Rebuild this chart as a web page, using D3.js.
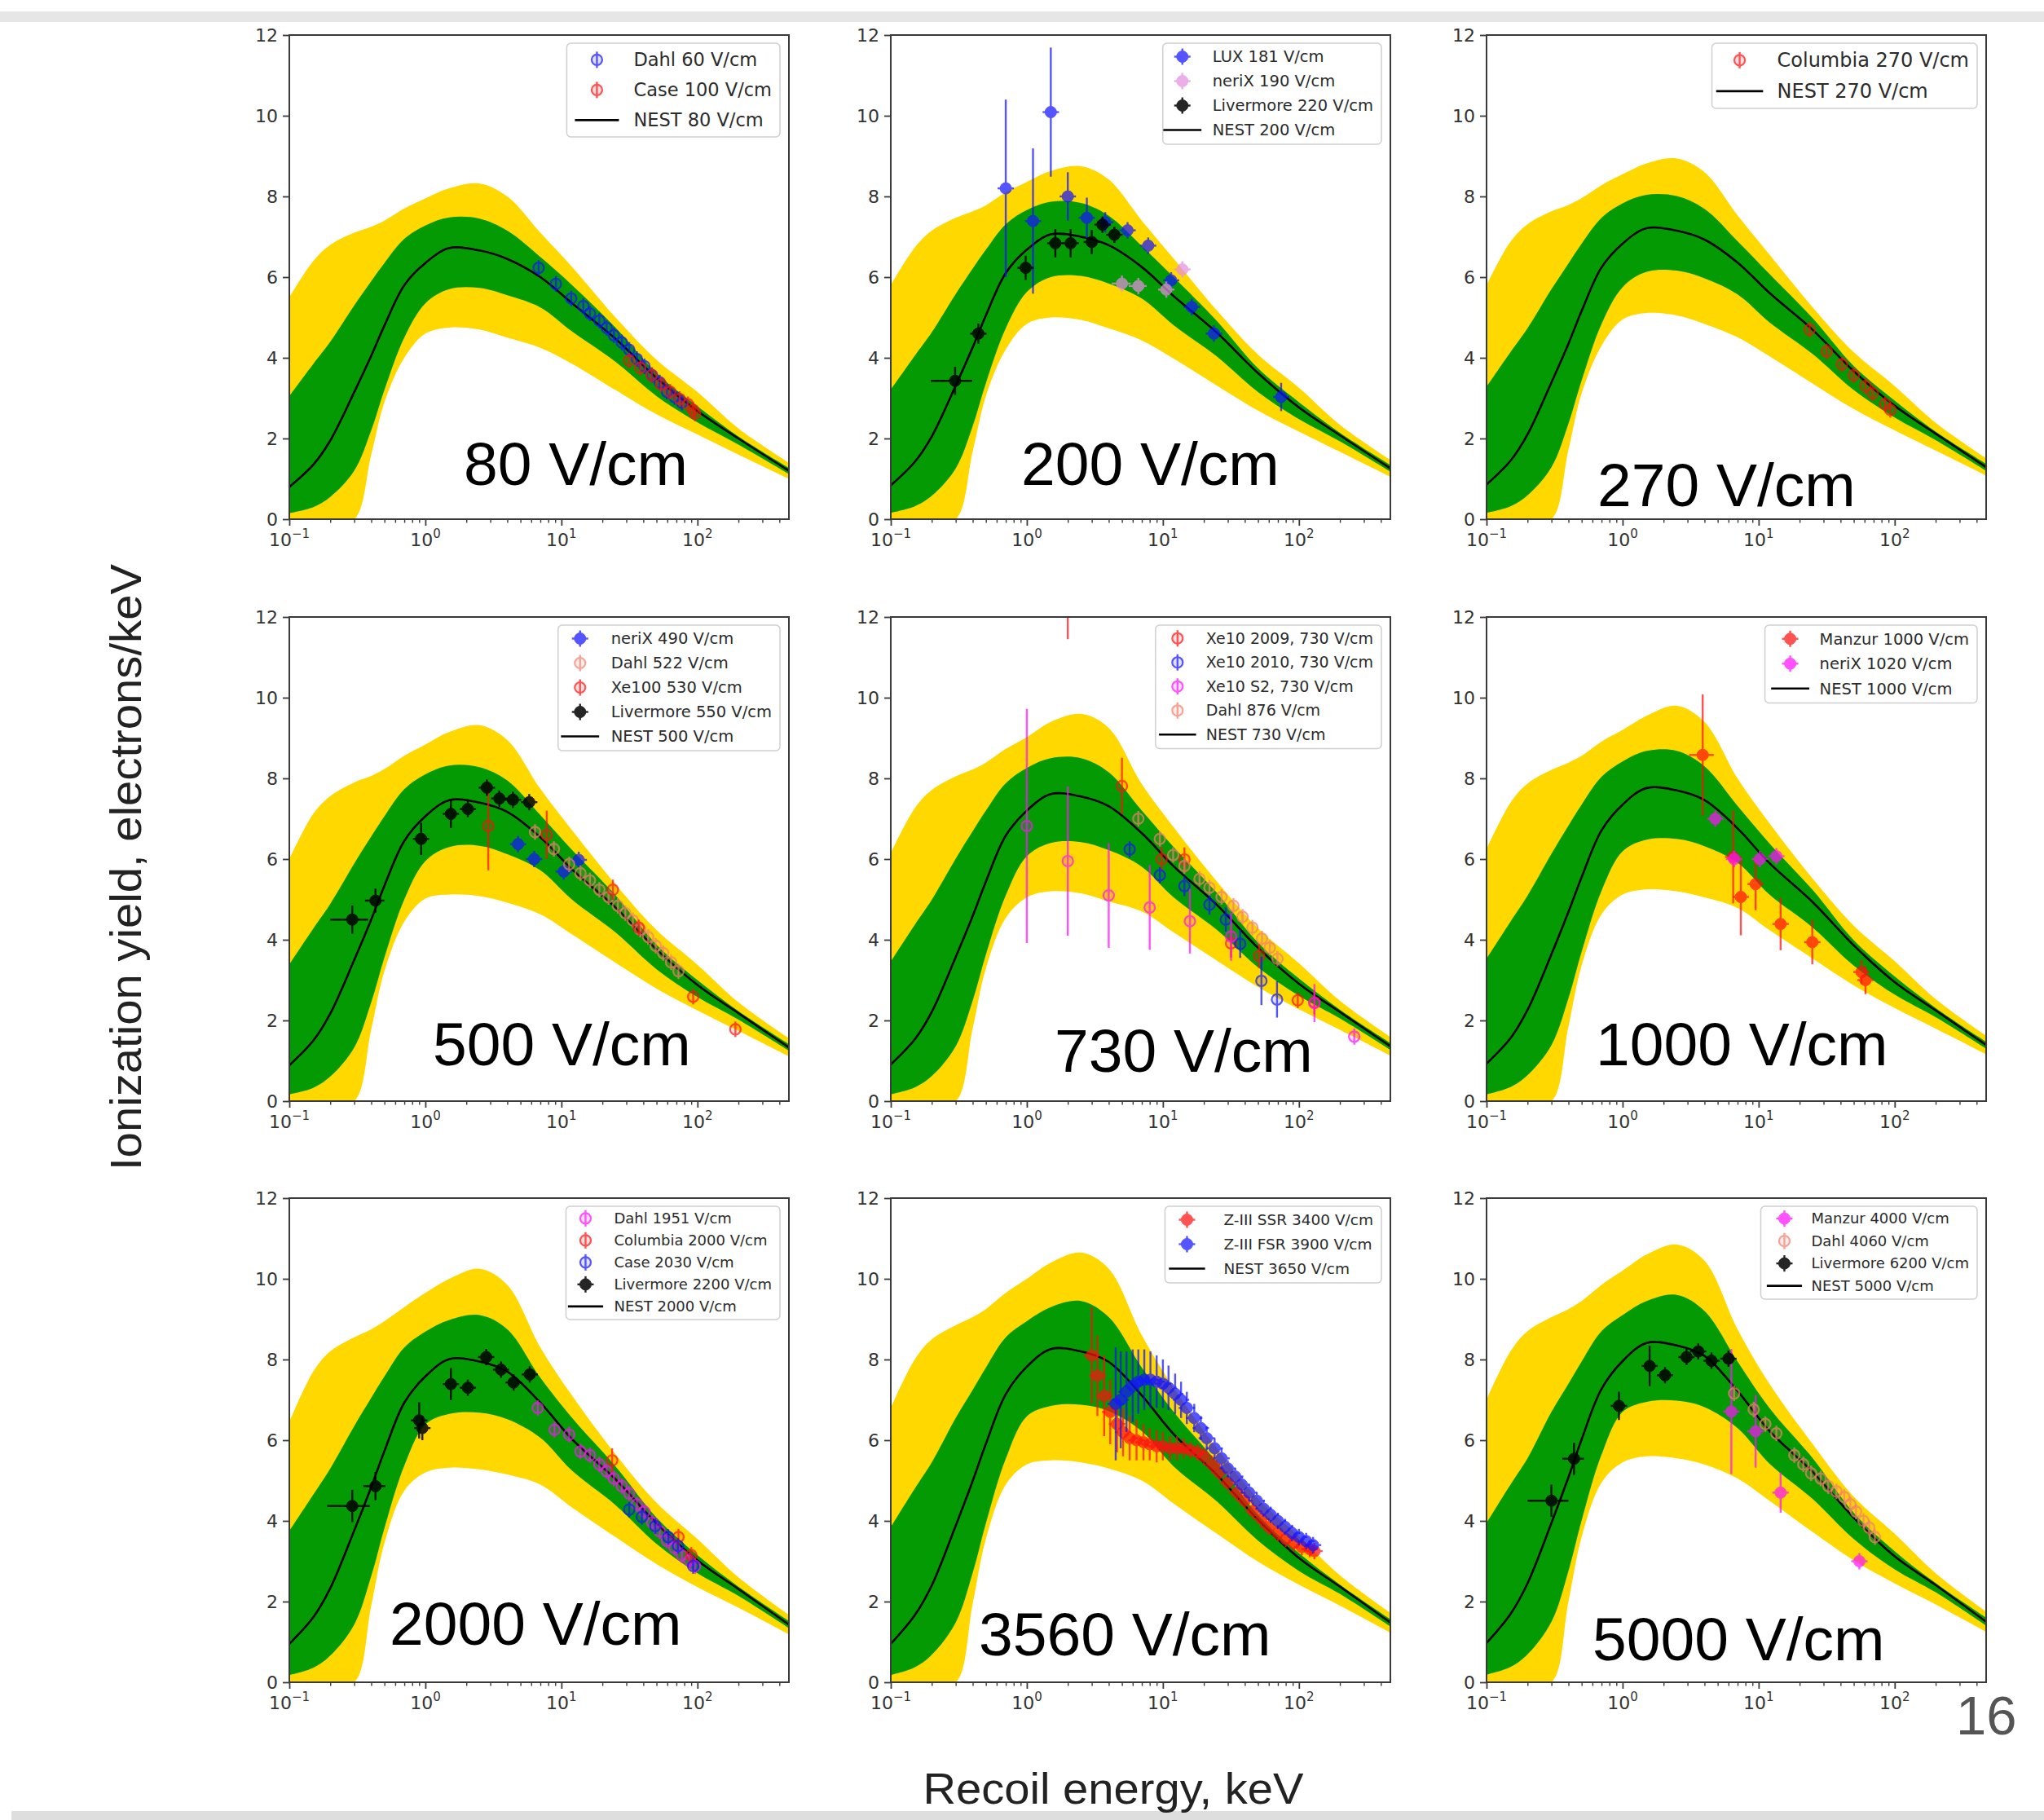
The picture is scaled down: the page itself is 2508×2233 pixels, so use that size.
<!DOCTYPE html>
<html>
<head>
<meta charset="utf-8">
<script src="https://cdn.jsdelivr.net/npm/d3@7"></script>
<style>
  body { margin: 0; background: #fff; }
</style>
</head>
<body>
<div id="chart"></div>
<script>
var energyGrid = [0.1, 0.15, 0.2, 0.3, 0.4, 0.5, 0.7, 1, 1.5, 2.5, 4, 7, 12, 25, 50, 100, 200, 470];

// ---- NEST mean, 1 sigma (green) and 2 sigma (yellow) bands, one set per field ----
var nest80      = [0.80,1.35,1.95,3.15,4.05,4.80,5.80,6.35,6.72,6.66,6.45,6.00,5.35,4.47,3.50,2.68,2.00,1.20];
var green80Hi   = [3.05,3.85,4.40,5.30,5.90,6.35,6.95,7.28,7.48,7.45,7.15,6.50,5.80,4.75,3.62,2.80,2.05,1.27];
var green80Lo   = [0.15,0.30,0.55,1.20,2.20,3.20,4.50,5.35,5.70,5.73,5.55,5.25,4.65,3.90,3.05,2.40,1.85,1.12];
var yellow80Hi  = [5.50,6.40,6.80,7.10,7.25,7.40,7.70,7.95,8.20,8.32,8.00,7.10,6.25,5.00,3.95,3.15,2.25,1.40];
var yellow80Lo  = [0,0,0,0,1.60,2.90,4.00,4.60,4.75,4.70,4.50,4.25,3.85,3.20,2.60,2.10,1.60,1.00];

var nest200     = [0.84,1.42,2.05,3.31,4.26,5.05,6.10,6.68,7.06,7.00,6.79,6.25,5.53,4.62,3.62,2.77,2.08,1.26];
var green200Hi  = [3.21,4.05,4.63,5.58,6.21,6.68,7.31,7.66,7.87,7.84,7.52,6.77,6.00,4.91,3.74,2.90,2.14,1.34];
var green200Lo  = [0.16,0.32,0.58,1.26,2.31,3.37,4.73,5.63,6.00,6.03,5.84,5.47,4.81,4.03,3.15,2.48,1.93,1.18];
var yellow200Hi = [5.80,6.73,7.15,7.47,7.63,7.78,8.10,8.36,8.63,8.75,8.42,7.40,6.46,5.17,4.08,3.26,2.34,1.47];
var yellow200Lo = [0,0,0,0,1.68,3.05,4.21,4.84,5.00,4.94,4.73,4.43,3.98,3.31,2.69,2.17,1.67,1.05];

var nest270     = [0.86,1.45,2.10,3.39,4.35,5.16,6.24,6.83,7.21,7.15,6.93,6.36,5.61,4.69,3.67,2.81,2.12,1.29];
var green270Hi  = [3.28,4.14,4.73,5.70,6.34,6.83,7.47,7.83,8.04,8.01,7.69,6.89,6.08,4.98,3.80,2.94,2.17,1.37];
var green270Lo  = [0.16,0.32,0.59,1.29,2.37,3.44,4.84,5.75,6.13,6.16,5.97,5.57,4.88,4.09,3.20,2.52,1.96,1.20];
var yellow270Hi = [5.80,6.88,7.31,7.63,7.79,7.96,8.28,8.55,8.82,8.94,8.60,7.53,6.56,5.25,4.14,3.30,2.39,1.51];
var yellow270Lo = [0,0,0,0,1.72,3.12,4.30,4.95,5.11,5.05,4.84,4.51,4.04,3.36,2.73,2.20,1.70,1.08];

var nest500     = [0.89,1.50,2.17,3.50,4.50,5.34,6.45,7.06,7.46,7.40,7.17,6.54,5.74,4.80,3.76,2.88,2.18,1.33];
var green500Hi  = [3.39,4.28,4.89,5.89,6.56,7.06,7.73,8.10,8.32,8.28,7.95,7.09,6.22,5.10,3.88,3.00,2.23,1.41];
var green500Lo  = [0.17,0.33,0.61,1.33,2.45,3.56,5.00,5.95,6.30,6.33,6.12,5.72,4.99,4.18,3.27,2.58,2.02,1.25];
var yellow500Hi = [6.00,7.12,7.56,7.90,8.06,8.23,8.56,8.84,9.15,9.32,8.95,7.74,6.71,5.37,4.24,3.38,2.45,1.56];
var yellow500Lo = [0,0,0,0,1.78,3.22,4.45,5.02,5.12,5.08,4.92,4.63,4.13,3.43,2.79,2.25,1.74,1.11];

var nest730     = [0.91,1.53,2.21,3.57,4.59,5.44,6.58,7.20,7.61,7.55,7.31,6.64,5.82,4.86,3.80,2.91,2.21,1.36];
var green730Hi  = [3.46,4.37,4.99,6.01,6.69,7.20,7.88,8.26,8.50,8.50,8.15,7.20,6.30,5.16,3.93,3.04,2.27,1.44];
var green730Lo  = [0.17,0.34,0.62,1.36,2.49,3.63,5.10,6.07,6.40,6.42,6.22,5.81,5.05,4.24,3.32,2.61,2.05,1.27];
var yellow730Hi = [6.15,7.26,7.71,8.05,8.22,8.39,8.73,9.02,9.40,9.60,9.25,7.86,6.79,5.44,4.29,3.42,2.49,1.59];
var yellow730Lo = [0,0,0,0,1.81,3.29,4.54,5.05,5.20,5.15,4.95,4.70,4.18,3.48,2.83,2.28,1.77,1.13];

var nest1000     = [0.93,1.56,2.26,3.64,4.69,5.55,6.71,7.35,7.76,7.70,7.46,6.76,5.90,4.93,3.86,2.95,2.25,1.39];
var green1000Hi  = [3.53,4.45,5.09,6.13,6.83,7.35,8.04,8.42,8.68,8.68,8.30,7.32,6.39,5.23,3.99,3.09,2.31,1.47];
var green1000Lo  = [0.17,0.35,0.64,1.39,2.55,3.70,5.21,6.19,6.48,6.50,6.32,5.91,5.12,4.30,3.36,2.64,2.08,1.30];
var yellow1000Hi = [6.25,7.40,7.87,8.21,8.39,8.56,8.91,9.20,9.55,9.80,9.40,8.00,6.89,5.51,4.35,3.47,2.53,1.62];
var yellow1000Lo = [0,0,0,0,1.85,3.36,4.63,5.12,5.25,5.20,5.05,4.79,4.24,3.53,2.87,2.31,1.80,1.16];

var nest2000     = [0.95,1.61,2.33,3.76,4.84,5.73,6.93,7.58,8.01,7.95,7.70,6.93,6.02,5.03,3.94,3.02,2.31,1.43];
var green2000Hi  = [3.75,4.65,5.30,6.35,7.05,7.58,8.30,8.69,8.98,9.10,8.75,7.55,6.55,5.35,4.08,3.15,2.37,1.52];
var green2000Lo  = [0.18,0.36,0.66,1.43,2.63,3.82,5.37,6.39,6.65,6.68,6.52,6.06,5.24,4.39,3.43,2.70,2.14,1.34];
var yellow2000Hi = [6.45,7.70,8.20,8.55,8.75,8.95,9.30,9.65,10.00,10.25,9.85,8.30,7.10,5.65,4.45,3.55,2.60,1.67];
var yellow2000Lo = [0,0,0,0,1.90,3.45,4.75,5.20,5.32,5.28,5.15,4.90,4.33,3.60,2.93,2.36,1.85,1.19];

var nest3650     = [0.95,1.66,2.40,3.88,4.99,5.91,7.14,7.82,8.26,8.20,7.94,7.11,6.15,5.14,4.03,3.08,2.37,1.48];
var green3650Hi  = [3.85,4.80,5.45,6.55,7.25,7.80,8.55,8.95,9.30,9.45,9.05,7.80,6.70,5.45,4.15,3.20,2.42,1.56];
var green3650Lo  = [0.18,0.37,0.68,1.48,2.71,3.94,5.54,6.59,6.85,6.88,6.72,6.22,5.35,4.48,3.51,2.76,2.19,1.38];
var yellow3650Hi = [6.80,8.00,8.50,8.85,9.05,9.25,9.65,10.00,10.40,10.65,10.25,8.60,7.30,5.80,4.55,3.62,2.65,1.72];
var yellow3650Lo = [0,0,0,0,1.95,3.55,4.90,5.40,5.50,5.45,5.30,5.00,4.43,3.68,2.99,2.42,1.90,1.23];

var nest5000     = [0.97,1.69,2.45,3.95,5.08,6.02,7.27,7.96,8.41,8.35,8.09,7.22,6.23,5.21,4.08,3.12,2.41,1.50];
var green5000Hi  = [3.95,4.90,5.55,6.70,7.40,7.95,8.70,9.10,9.45,9.60,9.20,7.95,6.80,5.55,4.20,3.25,2.46,1.60];
var green5000Lo  = [0.19,0.38,0.69,1.50,2.76,4.01,5.64,6.70,6.95,6.98,6.82,6.30,5.42,4.54,3.55,2.80,2.23,1.40];
var yellow5000Hi = [7.00,8.20,8.70,9.05,9.25,9.45,9.85,10.20,10.60,10.85,10.45,8.75,7.40,5.90,4.60,3.68,2.70,1.75];
var yellow5000Lo = [0,0,0,0,2.00,3.60,4.95,5.45,5.60,5.55,5.40,5.05,4.50,3.72,3.02,2.45,1.93,1.25];

// ---- measurements: energy (keV), yield, y error, x error ----
var dahl60E   = [6.8, 9.1, 11.8, 14.5, 16.2, 19, 21.5, 24.3, 27.8, 31.5, 35.9, 40.8, 46.4, 52.8, 59.6, 67.8, 76.8];
var dahl60Y   = [6.23, 5.83, 5.47, 5.28, 5.10, 4.92, 4.74, 4.56, 4.38, 4.20, 3.97, 3.79, 3.57, 3.39, 3.16, 3.03, 2.89];
var case100E  = [31.5, 38, 46, 54, 63, 74, 85, 93, 96];
var case100Y  = [3.93, 3.75, 3.57, 3.34, 3.16, 2.98, 2.85, 2.71, 2.62];

var lux181E   = [0.70, 1.11, 1.5, 2.0, 2.76, 3.77, 5.5, 7.8, 11.5, 16.3, 23.7, 74];
var lux181Y   = [8.20, 7.39, 10.09, 8.00, 7.47, 7.36, 7.16, 6.78, 5.92, 5.26, 4.60, 3.03];
var lux181Err = [2.2, 1.8, 1.6, 0.6, 0.5, 0.25, 0.2, 0.15, 0.15, 0.15, 0.15, 0.35];
var nerix190E = [5.0, 6.6, 10.6, 13.9];
var nerix190Y = [5.84, 5.78, 5.69, 6.19];
var nerix190Xerr = [0.8, 1.0, 1.3, 1.6];
var liv220E   = [0.297, 0.44, 0.98, 1.62, 2.1, 3.0, 3.6, 4.4];
var liv220Y   = [3.43, 4.60, 6.23, 6.84, 6.84, 6.87, 7.30, 7.05];
var liv220Err = [0.35, 0.25, 0.3, 0.35, 0.35, 0.3, 0.2, 0.2];
var liv220Xerr = [0.1, 0.05, 0.05, 0.08, 0.1, 0.12, 0.15, 0.2];

var columbia270E = [23.7, 31.7, 41, 50, 61, 69, 85, 93];
var columbia270Y = [4.70, 4.16, 3.84, 3.57, 3.30, 3.12, 2.85, 2.71];

var nerix490E = [4.8, 6.3, 10.4, 13.4];
var nerix490Y = [6.37, 6.00, 5.69, 5.98];
var nerix490Xerr = [0.6, 0.8, 1.2, 1.6];
var dahl522E  = [6.4, 8.8, 11.4, 13.8, 16.2, 19, 22.2, 26, 29.5, 33.5, 38, 43.4, 49.3, 56, 64, 72.5];
var dahl522Y  = [6.67, 6.25, 5.87, 5.65, 5.47, 5.24, 5.06, 4.84, 4.66, 4.48, 4.25, 4.07, 3.85, 3.67, 3.44, 3.22];
var xe100E    = [2.9, 7.8, 23.9, 37, 93, 190];
var xe100Y    = [6.82, 6.60, 5.24, 4.30, 2.59, 1.78];
var xe100Err  = [1.1, 0.6, 0.25, 0.2, 0.15, 0.15];
var liv550E   = [0.29, 0.43, 0.93, 1.54, 2.05, 2.83, 3.5, 4.4, 5.8];
var liv550Y   = [4.50, 4.97, 6.50, 7.12, 7.24, 7.77, 7.50, 7.47, 7.41];
var liv550Err = [0.35, 0.3, 0.4, 0.35, 0.15, 0.15, 0.12, 0.12, 0.12];
var liv550Xerr = [0.09, 0.07, 0.05, 0.06, 0.06, 0.06, 0.06, 0.06, 0.06];

var xe2009E   = [2.0, 5.0, 9.8, 14.4, 31.7, 51, 98, 130];
var xe2009Y   = [13.0, 7.81, 6.00, 5.99, 3.91, 3.60, 2.50, 2.45];
var xe2009Err = [1.55, 0.7, 0.3, 0.3, 0.35, 0.3, 0.15, 0.3];
var xe2010E   = [5.7, 9.5, 14.4, 22, 29, 37, 53, 69];
var xe2010Y   = [6.24, 5.60, 5.33, 4.87, 4.50, 3.90, 2.98, 2.52];
var xe2010Err = [0.2, 0.2, 0.25, 0.25, 0.3, 0.35, 0.6, 0.45];
var xe10s2E   = [1.0, 2.0, 4.0, 8.0, 15.8, 31.7, 130, 255];
var xe10s2Y   = [6.82, 5.95, 5.10, 4.80, 4.46, 4.08, 2.43, 1.60];
var xe10s2Err = [2.9, 1.85, 1.3, 1.05, 0.8, 0.6, 0.47, 0.2];
var dahl876E  = [6.6, 9.5, 11.9, 14.4, 18.6, 22, 27, 33, 38.5, 45.5, 53.5, 61, 69.5];
var dahl876Y  = [7.00, 6.50, 6.10, 5.83, 5.51, 5.29, 5.06, 4.84, 4.57, 4.30, 4.03, 3.80, 3.53];

var manzur1000E   = [3.88, 6.5, 7.4, 9.5, 14.5, 24.8, 57, 61];
var manzur1000Y   = [8.58, 6.05, 5.06, 5.38, 4.39, 3.94, 3.20, 3.00];
var manzur1000Err = [1.5, 1.15, 0.95, 0.65, 0.65, 0.55, 0.3, 0.35];
var manzur1000Xerr = [0.8, 0.6, 0.7, 0.8, 1.0, 1.5, 3, 3];
var nerix1020E = [4.8, 6.6, 10.2, 13.5];
var nerix1020Y = [7.00, 6.00, 6.00, 6.07];
var nerix1020Xerr = [0.5, 0.6, 0.9, 1.2];

var dahl1951E = [6.7, 8.9, 11.4, 13.8, 16.2, 19, 21.5, 24.3, 27.8, 31.5, 35.9, 40.8, 46.4, 52.8, 59.6, 67.8, 76.8, 87, 96];
var dahl1951Y = [6.80, 6.26, 6.14, 5.72, 5.63, 5.40, 5.23, 5.05, 4.86, 4.68, 4.41, 4.23, 3.96, 3.74, 3.51, 3.33, 3.15, 3.02, 2.88];
var columbia2000E   = [23.6, 72.5, 90];
var columbia2000Y   = [5.50, 3.60, 3.15];
var columbia2000Err = [0.3, 0.2, 0.2];
var case2030E = [31.5, 39, 49, 61, 72, 93];
var case2030Y = [4.28, 4.10, 3.87, 3.60, 3.38, 2.88];
var liv2200E   = [0.29, 0.43, 0.9, 0.95, 1.54, 2.05, 2.8, 3.6, 4.45, 5.85];
var liv2200Y   = [4.37, 4.86, 6.49, 6.30, 7.39, 7.30, 8.06, 7.75, 7.43, 7.63];
var liv2200Err = [0.4, 0.35, 0.45, 0.3, 0.4, 0.15, 0.15, 0.12, 0.12, 0.12];
var liv2200Xerr = [0.1, 0.08, 0.05, 0.05, 0.06, 0.06, 0.06, 0.06, 0.06, 0.06];

var zSsrE   = [3.0, 3.3, 3.7, 4.1, 4.6, 5.1, 5.7, 6.4, 7.2, 8.0, 9.0, 10, 11.3, 12.7, 14.2, 16, 18, 20, 23, 26, 30, 35, 40, 46, 53, 60, 70, 80, 92, 105, 120, 130];
var zSsrY   = [8.1, 7.6, 7.1, 6.7, 6.4, 6.2, 6.05, 6.0, 5.95, 5.9, 5.85, 5.85, 5.8, 5.8, 5.8, 5.75, 5.7, 5.6, 5.4, 5.2, 4.95, 4.7, 4.5, 4.25, 4.05, 3.85, 3.7, 3.55, 3.45, 3.35, 3.3, 3.25];
var zSsrErr = [1.2, 1.0, 1.0, 0.8, 0.7, 0.6, 0.55, 0.5, 0.45, 0.4, 0.4, 0.35, 0.3, 0.3, 0.25, 0.2, 0.2, 0.15, 0.15, 0.15, 0.15, 0.15, 0.12, 0.12, 0.12, 0.12, 0.1, 0.1, 0.1, 0.1, 0.1, 0.1];
var zFsrE   = [4.5, 4.9, 5.4, 6.0, 6.6, 7.3, 8.1, 9, 10, 11, 12.3, 13.6, 15, 17, 19, 21, 24, 27, 30, 34, 38, 43, 49, 55, 62, 70, 79, 89, 100, 113, 127];
var zFsrY   = [6.9, 7.0, 7.2, 7.35, 7.45, 7.5, 7.5, 7.45, 7.4, 7.3, 7.15, 7.0, 6.8, 6.55, 6.3, 6.05, 5.8, 5.55, 5.3, 5.1, 4.9, 4.7, 4.5, 4.3, 4.15, 4.0, 3.85, 3.7, 3.6, 3.5, 3.4];
var zFsrErr = [1.4, 1.2, 1.0, 0.9, 0.8, 0.75, 0.7, 0.65, 0.6, 0.55, 0.5, 0.45, 0.4, 0.35, 0.3, 0.3, 0.25, 0.25, 0.2, 0.2, 0.2, 0.2, 0.15, 0.15, 0.15, 0.15, 0.15, 0.12, 0.12, 0.12, 0.12];

var manzur4000E   = [6.3, 9.5, 14.5, 55];
var manzur4000Y   = [6.71, 6.22, 4.70, 3.00];
var manzur4000Err = [1.55, 0.9, 0.5, 0.2];
var manzur4000Xerr = [0.6, 0.8, 1.0, 3];
var dahl4060E = [6.6, 9.2, 11.2, 13.5, 18.3, 21.3, 24.3, 28.6, 32.5, 37.3, 42.6, 47.2, 52, 59, 65, 71.5];
var dahl4060Y = [7.16, 6.76, 6.40, 6.17, 5.63, 5.40, 5.18, 5.05, 4.86, 4.73, 4.59, 4.41, 4.23, 4.00, 3.83, 3.60];
var liv6200E   = [0.3, 0.44, 0.94, 1.58, 2.05, 2.95, 3.6, 4.5, 6.0];
var liv6200Y   = [4.50, 5.54, 6.85, 7.84, 7.61, 8.06, 8.20, 7.97, 8.02];
var liv6200Err = [0.4, 0.4, 0.35, 0.5, 0.15, 0.15, 0.12, 0.12, 0.12];
var liv6200Xerr = [0.1, 0.08, 0.05, 0.06, 0.06, 0.06, 0.06, 0.06, 0.06];

var fieldLabels = ["80 V/cm", "200 V/cm", "270 V/cm", "500 V/cm", "730 V/cm", "1000 V/cm", "2000 V/cm", "3560 V/cm", "5000 V/cm"];
var nestLabels  = ["NEST 80 V/cm", "NEST 200 V/cm", "NEST 270 V/cm", "NEST 500 V/cm", "NEST 730 V/cm", "NEST 1000 V/cm", "NEST 2000 V/cm", "NEST 3650 V/cm", "NEST 5000 V/cm"];
var yTicks = [0, 2, 4, 6, 8, 10, 12];
var xMajor = [0.1, 1, 10, 100];
var xMajorExp = ["\u22121", "0", "1", "2"];

// colours
var BLUE = "#1414ff", RED = "#ff1010", MAGENTA = "#ff10ff", PLUM = "#e58fe0", SALMON = "#f2806e", BLACK = "#000000";
var YELLOW = "#ffd800", GREEN = "#039a03";

// panels table, built from the arrays above
var panels = [
  { mean: nest80, gHi: green80Hi, gLo: green80Lo, yHi: yellow80Hi, yLo: yellow80Lo,
    series: [
      { name: "Dahl 60 V/cm", e: dahl60E, y: dahl60Y, color: BLUE, style: "open" },
      { name: "Case 100 V/cm", e: case100E, y: case100Y, color: RED, style: "open" } ] },
  { mean: nest200, gHi: green200Hi, gLo: green200Lo, yHi: yellow200Hi, yLo: yellow200Lo,
    series: [
      { name: "LUX 181 V/cm", e: lux181E, y: lux181Y, err: lux181Err, color: BLUE, style: "filled" },
      { name: "neriX 190 V/cm", e: nerix190E, y: nerix190Y, xerr: nerix190Xerr, color: PLUM, style: "filled" },
      { name: "Livermore 220 V/cm", e: liv220E, y: liv220Y, err: liv220Err, xerr: liv220Xerr, color: BLACK, style: "liv" } ] },
  { mean: nest270, gHi: green270Hi, gLo: green270Lo, yHi: yellow270Hi, yLo: yellow270Lo,
    series: [
      { name: "Columbia 270 V/cm", e: columbia270E, y: columbia270Y, color: RED, style: "open" } ] },
  { mean: nest500, gHi: green500Hi, gLo: green500Lo, yHi: yellow500Hi, yLo: yellow500Lo,
    series: [
      { name: "neriX 490 V/cm", e: nerix490E, y: nerix490Y, xerr: nerix490Xerr, color: BLUE, style: "filled" },
      { name: "Dahl 522 V/cm", e: dahl522E, y: dahl522Y, color: SALMON, style: "open" },
      { name: "Xe100 530 V/cm", e: xe100E, y: xe100Y, err: xe100Err, color: RED, style: "open" },
      { name: "Livermore 550 V/cm", e: liv550E, y: liv550Y, err: liv550Err, xerr: liv550Xerr, color: BLACK, style: "liv" } ] },
  { mean: nest730, gHi: green730Hi, gLo: green730Lo, yHi: yellow730Hi, yLo: yellow730Lo,
    series: [
      { name: "Xe10 2009, 730 V/cm", e: xe2009E, y: xe2009Y, err: xe2009Err, color: RED, style: "open" },
      { name: "Xe10 2010, 730 V/cm", e: xe2010E, y: xe2010Y, err: xe2010Err, color: BLUE, style: "open" },
      { name: "Xe10 S2, 730 V/cm", e: xe10s2E, y: xe10s2Y, err: xe10s2Err, color: MAGENTA, style: "open" },
      { name: "Dahl 876 V/cm", e: dahl876E, y: dahl876Y, color: SALMON, style: "open" } ] },
  { mean: nest1000, gHi: green1000Hi, gLo: green1000Lo, yHi: yellow1000Hi, yLo: yellow1000Lo,
    series: [
      { name: "Manzur 1000 V/cm", e: manzur1000E, y: manzur1000Y, err: manzur1000Err, xerr: manzur1000Xerr, color: RED, style: "filled" },
      { name: "neriX 1020 V/cm", e: nerix1020E, y: nerix1020Y, xerr: nerix1020Xerr, color: MAGENTA, style: "filled" } ] },
  { mean: nest2000, gHi: green2000Hi, gLo: green2000Lo, yHi: yellow2000Hi, yLo: yellow2000Lo,
    series: [
      { name: "Dahl 1951 V/cm", e: dahl1951E, y: dahl1951Y, color: MAGENTA, style: "open" },
      { name: "Columbia 2000 V/cm", e: columbia2000E, y: columbia2000Y, err: columbia2000Err, color: RED, style: "open" },
      { name: "Case 2030 V/cm", e: case2030E, y: case2030Y, color: BLUE, style: "open" },
      { name: "Livermore 2200 V/cm", e: liv2200E, y: liv2200Y, err: liv2200Err, xerr: liv2200Xerr, color: BLACK, style: "liv" } ] },
  { mean: nest3650, gHi: green3650Hi, gLo: green3650Lo, yHi: yellow3650Hi, yLo: yellow3650Lo,
    series: [
      { name: "Z-III SSR 3400 V/cm", e: zSsrE, y: zSsrY, err: zSsrErr, color: RED, style: "filled" },
      { name: "Z-III FSR 3900 V/cm", e: zFsrE, y: zFsrY, err: zFsrErr, color: BLUE, style: "filled" } ] },
  { mean: nest5000, gHi: green5000Hi, gLo: green5000Lo, yHi: yellow5000Hi, yLo: yellow5000Lo,
    series: [
      { name: "Manzur 4000 V/cm", e: manzur4000E, y: manzur4000Y, err: manzur4000Err, xerr: manzur4000Xerr, color: MAGENTA, style: "filled" },
      { name: "Dahl 4060 V/cm", e: dahl4060E, y: dahl4060Y, color: SALMON, style: "open" },
      { name: "Livermore 6200 V/cm", e: liv6200E, y: liv6200Y, err: liv6200Err, xerr: liv6200Xerr, color: BLACK, style: "liv" } ] }
];

// layout (pixels)
var colX = [355, 1093, 1824], rowY = [43, 757, 1470];
var pw = 613, ph = 594;
var labelPos = [[214, 552], [160, 552], [136, 578], [176, 550], [201, 558], [134, 550], [123, 548], [108, 561], [130, 567]];
var legendCfg = [
  { fs: 22.5, rowH: 37, textOff: 82, handle: 37 },
  { fs: 19.5, rowH: 30, textOff: 61, handle: 24 },
  { fs: 24, rowH: 38, textOff: 80, handle: 34 },
  { fs: 19.5, rowH: 30, textOff: 65, handle: 27 },
  { fs: 19, rowH: 29.5, textOff: 62, handle: 27 },
  { fs: 19.5, rowH: 30.5, textOff: 67, handle: 31 },
  { fs: 18, rowH: 27, textOff: 59, handle: 24 },
  { fs: 18.5, rowH: 30, textOff: 72, handle: 27 },
  { fs: 18, rowH: 27.5, textOff: 62, handle: 29 }
];

var W = 2508, H = 2233;
var svg = d3.select("#chart").append("svg")
    .attr("width", W)
    .attr("height", H)
    .style("font-family", "'DejaVu Sans', sans-serif");

svg.append("rect").attr("width", W).attr("height", H).attr("fill", "#fff");
// slide bars top and bottom
svg.append("rect").attr("x", 0).attr("y", 14).attr("width", W).attr("height", 13).attr("fill", "#e6e6e6");
svg.append("rect").attr("x", 14).attr("y", 2222).attr("width", W - 14).attr("height", 11).attr("fill", "#dedede");

var x = d3.scaleLog().domain([0.1, 470]).range([0, pw]);
var y = d3.scaleLinear().domain([0, 12]).range([ph, 0]);
var smooth = d3.curveCatmullRom.alpha(0.5);

var minorTicks = [];
[0.1, 1, 10, 100].forEach(function(d) {
  for (var k = 2; k <= 9; k++) { if (d * k <= 470) minorTicks.push(d * k); }
});

// one marker with its error bars
function drawMarker(g, cx, cy, ylo, yhi, xlo, xhi, style, color) {
  var r = style === "open" ? 6.5 : 7;
  var sw = 2.4;
  var grp = g.append("g").attr("opacity", style === "liv" ? 0.85 : 0.72);
  var top = Math.min(yhi, cy - r - 3), bot = Math.max(ylo, cy + r + 3);
  grp.append("line").attr("x1", cx).attr("x2", cx).attr("y1", top).attr("y2", bot)
     .attr("stroke", color).attr("stroke-width", sw);
  if (style !== "open") {
    var l = Math.min(xlo, cx - r - 3), rr = Math.max(xhi, cx + r + 3);
    grp.append("line").attr("x1", l).attr("x2", rr).attr("y1", cy).attr("y2", cy)
       .attr("stroke", color).attr("stroke-width", sw);
  }
  if (style === "open") {
    grp.append("circle").attr("cx", cx).attr("cy", cy).attr("r", r)
       .attr("fill", color).attr("fill-opacity", 0.18)
       .attr("stroke", color).attr("stroke-width", 2.2);
  } else {
    grp.append("circle").attr("cx", cx).attr("cy", cy).attr("r", r)
       .attr("fill", color).attr("stroke", color).attr("stroke-width", 1);
  }
}

panels.forEach(function(p, i) {
  var col = i % 3, row = Math.floor(i / 3);
  var g = svg.append("g").attr("transform", "translate(" + colX[col] + "," + rowY[row] + ")");

  g.append("clipPath").attr("id", "clip" + i)
    .append("rect").attr("width", pw).attr("height", ph);
  var plot = g.append("g").attr("clip-path", "url(#clip" + i + ")");

  var rows = energyGrid.map(function(e, k) {
    return { e: e, m: p.mean[k], gh: p.gHi[k], gl: p.gLo[k], yh: p.yHi[k], yl: p.yLo[k] };
  });
  function band(lo, hi) {
    return d3.area()
      .x(function(d) { return x(d.e); })
      .y0(function(d) { return y(d[lo]); })
      .y1(function(d) { return y(d[hi]); })
      .curve(smooth);
  }
  plot.append("path").datum(rows).attr("d", band("yl", "yh")).attr("fill", YELLOW);
  plot.append("path").datum(rows).attr("d", band("gl", "gh")).attr("fill", GREEN);
  plot.append("path").datum(rows)
    .attr("d", d3.line().x(function(d) { return x(d.e); }).y(function(d) { return y(d.m); }).curve(smooth))
    .attr("fill", "none").attr("stroke", "#000").attr("stroke-width", 2.6);

  // measurements
  p.series.forEach(function(s) {
    s.e.forEach(function(e, k) {
      var v = s.y[k];
      var err = s.err ? s.err[k] : 0.12;
      var xe = s.xerr ? s.xerr[k] : 0;
      drawMarker(plot, x(e), y(v), y(v - err), y(v + err),
                 xe ? x(Math.max(e - xe, 0.05)) : x(e), xe ? x(e + xe) : x(e), s.style, s.color);
    });
  });

  // frame
  g.append("rect").attr("width", pw).attr("height", ph)
    .attr("fill", "none").attr("stroke", "#3a3a3a").attr("stroke-width", 2);

  // y axis
  var ya = g.append("g").call(d3.axisLeft(y).tickValues(yTicks).tickSize(8).tickPadding(6));
  ya.select(".domain").remove();
  ya.selectAll("line").attr("stroke", "#3a3a3a").attr("stroke-width", 1.8);
  ya.selectAll("text").attr("font-size", 22).attr("fill", "#333").attr("font-family", "'DejaVu Sans', sans-serif");

  // x axis: majors, minors, superscript labels
  var xa = g.append("g").attr("transform", "translate(0," + ph + ")")
    .call(d3.axisBottom(x).tickValues(xMajor).tickSize(8).tickFormat(""));
  xa.select(".domain").remove();
  xa.selectAll("line").attr("stroke", "#3a3a3a").attr("stroke-width", 1.8);
  var xm = g.append("g").attr("transform", "translate(0," + ph + ")")
    .call(d3.axisBottom(x).tickValues(minorTicks).tickSize(4.5).tickFormat(""));
  xm.select(".domain").remove();
  xm.selectAll("line").attr("stroke", "#3a3a3a").attr("stroke-width", 1.4);

  xMajor.forEach(function(v, k) {
    var t = g.append("text").attr("x", x(v)).attr("y", ph + 33)
      .attr("text-anchor", "middle").attr("font-size", 22).attr("fill", "#333");
    t.append("tspan").text("10");
    t.append("tspan").attr("dy", -10).attr("font-size", 15).text(xMajorExp[k]);
  });

  // legend
  var lc = legendCfg[i];
  var entries = p.series.map(function(s) { return { name: s.name, s: s }; });
  entries.push({ name: nestLabels[i], s: null });
  var lg = g.append("g");
  var box = lg.append("rect");
  var texts = [];
  var maxW = 0;
  entries.forEach(function(en, k) {
    var t = lg.append("text").attr("font-size", lc.fs).attr("fill", "#2b2b2b")
      .attr("dy", "0.35em").text(en.name);
    maxW = Math.max(maxW, t.node().getComputedTextLength());
    texts.push(t);
  });
  var bw = lc.textOff + maxW + 10;
  var bh = entries.length * lc.rowH + 4;
  var bx = pw - 11 - bw, by = 10;
  box.attr("x", bx).attr("y", by).attr("width", bw).attr("height", bh)
    .attr("rx", 5).attr("fill", "#fff").attr("fill-opacity", 0.85)
    .attr("stroke", "#cfcfcf").attr("stroke-width", 1.5);
  entries.forEach(function(en, k) {
    var cy = by + lc.rowH * 0.55 + k * lc.rowH;
    texts[k].attr("x", bx + lc.textOff).attr("y", cy);
    var hx = bx + lc.handle;
    if (en.s) {
      drawMarker(lg, hx, cy, cy + 10, cy - 10, hx - 9, hx + 9, en.s.style, en.s.color);
    } else {
      lg.append("line").attr("x1", hx - lc.fs * 1.2).attr("x2", hx + lc.fs * 1.2)
        .attr("y1", cy).attr("y2", cy).attr("stroke", "#000").attr("stroke-width", 2.6);
    }
  });

  // big field label
  g.append("text").attr("x", labelPos[i][0]).attr("y", labelPos[i][1])
    .attr("font-family", "'Liberation Sans', Arial, sans-serif")
    .attr("font-size", 75).attr("fill", "#000").text(fieldLabels[i]);
});

// shared axis titles
svg.append("text")
  .attr("transform", "translate(173,1064) rotate(-90)")
  .attr("text-anchor", "middle")
  .attr("font-family", "'Liberation Sans', Arial, sans-serif")
  .attr("font-size", 54).attr("fill", "#222")
  .attr("textLength", 744).attr("lengthAdjust", "spacingAndGlyphs")
  .text("Ionization yield, electrons/keV");

svg.append("text")
  .attr("x", 1366).attr("y", 2213)
  .attr("text-anchor", "middle")
  .attr("font-family", "'Liberation Sans', Arial, sans-serif")
  .attr("font-size", 54).attr("fill", "#222")
  .attr("textLength", 467).attr("lengthAdjust", "spacingAndGlyphs")
  .text("Recoil energy, keV");

// slide number
svg.append("text")
  .attr("x", 2400).attr("y", 2128)
  .attr("font-family", "'Liberation Sans', Arial, sans-serif")
  .attr("font-size", 67).attr("fill", "#555")
  .text("16");
</script>
</body>
</html>
